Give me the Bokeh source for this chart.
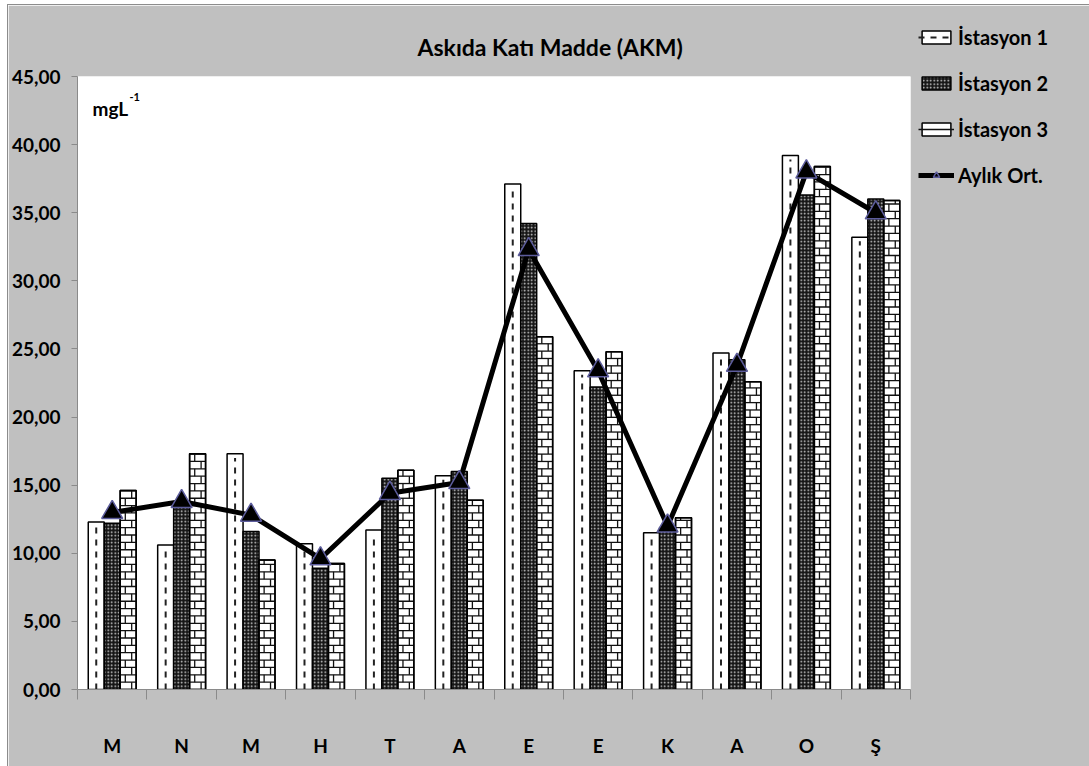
from bokeh.plotting import figure
from bokeh.models import Range1d, FixedTicker, Legend, LegendItem, Label
from bokeh.embed import file_html
from bokeh.resources import INLINE

# Monthly suspended solids (mg/L) at three stations and the monthly mean
months = ["M", "N", "M", "H", "T", "A", "E", "E", "K", "A", "O", "Ş"]
ist1 = [12.3, 10.6, 17.3, 10.7, 11.7, 15.7, 37.1, 23.4, 11.5, 24.7, 39.2, 33.2]
ist2 = [12.2, 13.5, 11.6, 8.9, 15.5, 16.0, 34.2, 22.2, 11.9, 24.2, 36.3, 36.0]
ist3 = [14.6, 17.3, 9.5, 9.25, 16.1, 13.9, 25.9, 24.8, 12.6, 22.6, 38.4, 35.9]
aylik = [13.0, 13.8, 12.8, 9.6, 14.4, 15.2, 32.3, 23.4, 12.0, 23.8, 38.0, 35.0]
y_ticks = [0, 5, 10, 15, 20, 25, 30, 35, 40, 45]

FONT = "Lato"
BG = "#c0c0c0"

x = list(range(len(months)))
bw = 0.23
off = [-0.23, 0.0, 0.23]

p = figure(
    frame_width=833, frame_height=613,
    min_border_left=67, min_border_right=0, min_border_top=71, min_border_bottom=77,
    x_range=Range1d(-0.5, len(months) - 0.5), y_range=Range1d(0, 45),
    output_backend="svg", toolbar_location=None,
    background_fill_color="white", border_fill_color=BG,
    outline_line_color=None, margin=(4, 0, 0, 7),
    styles={"border-top": "1px solid #8c8c8c", "border-left": "1px solid #8c8c8c"},
)
p.xgrid.visible = False
p.ygrid.visible = False

p.title.text = "Askıda Katı Madde (AKM)"
p.title.align = "left"
p.title.offset = 340
p.title.standoff = 32
p.title.text_font = FONT
p.title.text_font_style = "bold"
p.title.text_font_size = "23px"
p.title.text_color = "black"

# Station 1: white bars with a dashed centre line
x1 = [i + off[0] for i in x]
r1 = p.vbar(x=x1, top=ist1, width=bw, fill_color="white", line_color="black", line_width=1.5)
r1d = p.segment(x0=x1, y0=[0] * len(x), x1=x1, y1=[v - 0.3 for v in ist1],
                line_color="#222222", line_width=2, line_dash="6 6")

# Station 2: dark dotted mesh
x2 = [i + off[1] for i in x]
r2 = p.vbar(x=x2, top=ist2, width=bw, fill_color="#161616", line_color="black", line_width=1.5,
            hatch_pattern="dot", hatch_color="#d8d8d8", hatch_scale=3.5, hatch_weight=1.0)

# Station 3: brick pattern built from horizontal courses and staggered joints
x3 = [i + off[2] for i in x]
step = 0.54
hx0, hx1, hy = [], [], []
vx, vy0, vy1 = [], [], []
for xc, v in zip(x3, ist3):
    left, right = xc - bw / 2, xc + bw / 2
    k = 0
    while k * step < v:
        y_lo = k * step
        y_hi = min((k + 1) * step, v)
        if k > 0:
            hx0.append(left); hx1.append(right); hy.append(y_lo)
        frac = 0.32 if k % 2 else 0.72
        vx.append(left + bw * frac); vy0.append(y_lo); vy1.append(y_hi)
        k += 1
r3 = p.vbar(x=x3, top=ist3, width=bw, fill_color="white", line_color="black", line_width=1.5)
r3h = p.segment(x0=hx0, y0=hy, x1=hx1, y1=hy, line_color="#111111", line_width=1.3)
r3v = p.segment(x0=vx, y0=vy0, x1=vx, y1=vy1, line_color="#111111", line_width=1.3)
r3o = p.vbar(x=x3, top=ist3, width=bw, fill_color=None, line_color="black", line_width=1.5)

# Monthly mean
rl = p.line(x=x, y=aylik, line_color="black", line_width=5)
rm = p.scatter(x=x, y=aylik, marker="triangle", size=21, fill_color="black",
               line_color="#5c5c9c", line_width=1.5)

# Axes
p.yaxis.ticker = FixedTicker(ticks=y_ticks)
p.yaxis.major_label_overrides = {t: f"{t:.2f}".replace(".", ",") for t in y_ticks}
p.yaxis.major_label_text_font = FONT
p.yaxis.major_label_text_font_style = "bold"
p.yaxis.major_label_text_font_size = "19px"
p.yaxis.major_label_text_color = "black"
p.yaxis.major_tick_out = 6
p.yaxis.major_tick_in = 0
p.yaxis.minor_tick_out = 0
p.yaxis.minor_tick_in = 0
p.yaxis.major_label_standoff = 11
p.yaxis.axis_line_color = "#8a8a8a"
p.yaxis.major_tick_line_color = "#8a8a8a"

p.xaxis.ticker = FixedTicker(ticks=x, minor_ticks=[i - 0.5 for i in range(len(months) + 1)])
p.xaxis.major_label_overrides = {i: m for i, m in enumerate(months)}
p.xaxis.major_label_text_font = FONT
p.xaxis.major_label_text_font_style = "bold"
p.xaxis.major_label_text_font_size = "19px"
p.xaxis.major_label_text_color = "black"
p.xaxis.major_tick_out = 0
p.xaxis.major_tick_in = 0
p.xaxis.minor_tick_out = 10
p.xaxis.minor_tick_in = 0
p.xaxis.minor_tick_line_color = "#8a8a8a"
p.xaxis.axis_line_color = "#8a8a8a"
p.xaxis.major_label_standoff = 34

# Unit label
p.add_layout(Label(x=15, y=570, x_units="screen", y_units="screen", text="mgL",
                   text_font=FONT, text_font_style="bold", text_font_size="19px", text_color="black"))
p.add_layout(Label(x=52, y=589, x_units="screen", y_units="screen", text="-1",
                   text_font=FONT, text_font_style="bold", text_font_size="11px", text_color="black"))

legend = Legend(
    items=[
        LegendItem(label="İstasyon 1", renderers=[r1, r1d]),
        LegendItem(label="İstasyon 2", renderers=[r2]),
        LegendItem(label="İstasyon 3", renderers=[r3, r3h]),
        LegendItem(label="Aylık Ort.", renderers=[rl, rm]),
    ],
    location=(8, 502),
    background_fill_alpha=0, border_line_color=None,
    glyph_width=36, glyph_height=16, label_height=20, spacing=22,
    label_standoff=4, padding=5, margin=0,
    label_text_font=FONT, label_text_font_style="bold", label_text_font_size="20px",
    label_text_color="black",
)
p.add_layout(legend, "right")

open("out.html", "w").write(file_html(p, INLINE))
